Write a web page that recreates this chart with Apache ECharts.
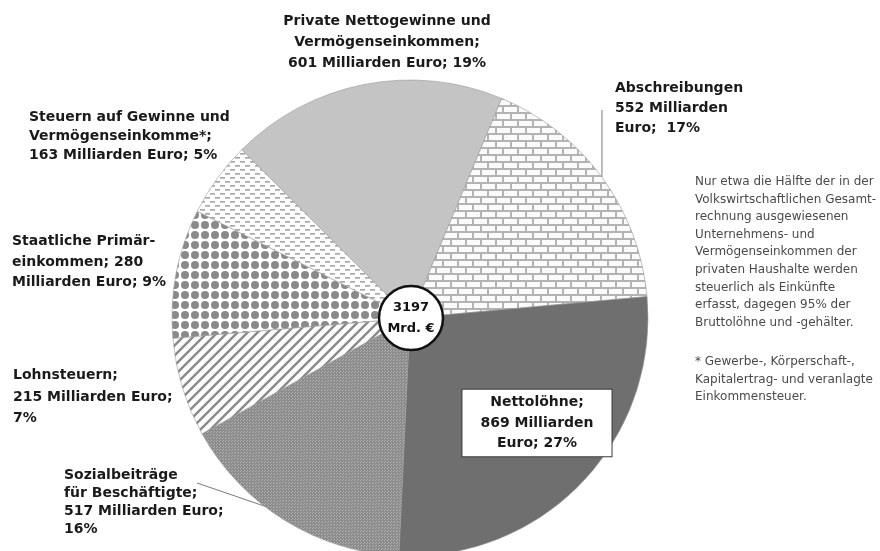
<!DOCTYPE html>
<html><head><meta charset="utf-8">
<script src="https://cdn.jsdelivr.net/npm/echarts@6/dist/echarts.min.js"></script>
<style>html,body{margin:0;padding:0;background:#fff}#c{width:880px;height:551px}</style>
</head><body><div id="c"></div>
<script>
// ---- data ----
const categories = [
  'Private Nettogewinne und Vermögenseinkommen',
  'Abschreibungen',
  'Nettolöhne',
  'Sozialbeiträge für Beschäftigte',
  'Lohnsteuern',
  'Staatliche Primäreinkommen',
  'Steuern auf Gewinne und Vermögenseinkommen*'
];
const values = [601, 552, 869, 517, 215, 280, 163];
const labelTemplates = [
  'Private Nettogewinne und\nVermögenseinkommen;\n{v} Milliarden Euro; {p}%',
  'Abschreibungen\n{v} Milliarden\nEuro;  {p}%',
  'Nettolöhne;\n{v} Milliarden\nEuro; {p}%',
  'Sozialbeiträge\nfür Beschäftigte;\n{v} Milliarden Euro;\n{p}%',
  'Lohnsteuern;\n{v} Milliarden Euro;\n{p}%',
  'Staatliche Primär-\neinkommen; {v}\nMilliarden Euro; {p}%',
  'Steuern auf Gewinne und\nVermögenseinkomme*;\n{v} Milliarden Euro; {p}%'
];
const centerUnit = 'Mrd. €';
const noteLines = [
  'Nur etwa die Hälfte der in der',
  'Volkswirtschaftlichen Gesamt-',
  'rechnung ausgewiesenen',
  'Unternehmens- und',
  'Vermögenseinkommen der',
  'privaten Haushalte werden',
  'steuerlich als Einkünfte',
  'erfasst, dagegen 95% der',
  'Bruttolöhne und -gehälter.'
];
const footnoteLines = [
  '* Gewerbe-, Körperschaft-,',
  'Kapitalertrag- und veranlagte',
  'Einkommensteuer.'
];

// ---- styles / layout ----
const total = values.reduce((a, b) => a + b, 0);
function mk(w, h, draw) {
  const c = document.createElement('canvas'); c.width = w; c.height = h;
  const g = c.getContext('2d'); draw(g, w, h); return c;
}
const patBrick = mk(15, 14, g => {
  g.fillStyle = '#fbfbfb'; g.fillRect(0, 0, 15, 14);
  g.fillStyle = '#b3b3b3';
  g.fillRect(0, 0, 15, 2); g.fillRect(0, 7, 15, 2);
  g.fillRect(0, 0, 2, 7); g.fillRect(7, 7, 2, 7);
});
const patGrid = mk(3, 3, g => {
  g.fillStyle = '#8c8c8c'; g.fillRect(0, 0, 3, 3);
  g.fillStyle = '#b0b0b0'; g.fillRect(0, 0, 1, 1); g.fillRect(1, 2, 1, 1);
});
const patDiag = mk(10, 10, g => {
  g.fillStyle = '#ffffff'; g.fillRect(0, 0, 10, 10);
  g.strokeStyle = '#8a8a8a'; g.lineWidth = 2.4;
  g.beginPath();
  g.moveTo(-2, 12); g.lineTo(12, -2);
  g.moveTo(-2, 2); g.lineTo(2, -2);
  g.moveTo(8, 12); g.lineTo(12, 8);
  g.stroke();
});
const patDots = mk(10, 10, g => {
  g.fillStyle = '#ffffff'; g.fillRect(0, 0, 10, 10);
  g.fillStyle = '#8a8a8a';
  g.beginPath(); g.arc(5, 5, 4, 0, Math.PI * 2); g.fill();
});
const patDash = mk(10, 8, g => {
  g.fillStyle = '#ffffff'; g.fillRect(0, 0, 10, 8);
  g.fillStyle = '#a8a8a8';
  g.fillRect(0, 1, 5, 1.7); g.fillRect(5, 5, 5, 1.7);
});
const sliceColors = [
  '#c4c4c4',
  { image: patBrick, repeat: 'repeat' },
  '#6f6f6f',
  { image: patGrid, repeat: 'repeat' },
  { image: patDiag, repeat: 'repeat' },
  { image: patDots, repeat: 'repeat' },
  { image: patDash, repeat: 'repeat' }
];
const labelPos = [
  { x: 387, y: 42, align: 'center', lh: 21 },
  { x: 615, y: 108, align: 'left', lh: 20 },
  { x: 537, y: 423, align: 'center', lh: 20.5 },
  { x: 64, y: 502, align: 'left', lh: 18 },
  { x: 13, y: 397, align: 'left', lh: 21.5 },
  { x: 12, y: 262, align: 'left', lh: 20.5 },
  { x: 29, y: 136, align: 'left', lh: 19 }
];
const withLine = [1, 3];

const pieData = categories.map((name, i) => {
  const item = {
    name, value: values[i],
    itemStyle: { color: sliceColors[i] },
    label: { lineHeight: labelPos[i].lh, align: labelPos[i].align },
    labelLine: { show: withLine.includes(i) }
  };
  if (i === 2) {
    Object.assign(item.label, {
      backgroundColor: '#ffffff', borderColor: '#3a3a3a', borderWidth: 1, padding: [3, 18, 2, 18]
    });
  }
  return item;
});

const chart = echarts.init(document.getElementById('c'), null, { renderer: 'canvas' });
chart.setOption({
  animation: false,
  backgroundColor: '#ffffff',
  series: [
    {
      type: 'pie',
      center: [410, 318],
      radius: 238,
      startAngle: 135,
      clockwise: true,
      avoidLabelOverlap: false,
      silent: true,
      itemStyle: { borderColor: '#9a9a9a', borderWidth: 0.6 },
      label: {
        show: true,
        position: 'outside',
        color: '#1a1a1a',
        fontFamily: 'DejaVu Sans',
        fontWeight: 'bold',
        fontSize: 14,
        formatter: p => labelTemplates[p.dataIndex]
          .replace('{v}', values[p.dataIndex])
          .replace('{p}', Math.round(values[p.dataIndex] / total * 100))
      },
      labelLine: { show: false, lineStyle: { color: '#7a7a7a', width: 1 } },
      labelLayout: p => {
        const L = labelPos[p.dataIndex];
        const r = { x: L.x, y: L.y, align: L.align, verticalAlign: 'middle' };
        if (p.labelLinePoints && p.dataIndex === 1) {
          const s = p.labelLinePoints[0];
          r.labelLinePoints = [[s[0], s[1]], [s[0], L.y + 2], [s[0], L.y + 2]];
        }
        if (p.labelLinePoints && p.dataIndex === 3) {
          const s = p.labelLinePoints[0];
          r.labelLinePoints = [[s[0] - 8, s[1] - 10], [L.x + 133, L.y - 19], [L.x + 133, L.y - 19]];
        }
        return r;
      },
      data: pieData
    },
    {
      type: 'pie',
      center: [411, 318],
      radius: [0, 32],
      silent: true,
      z: 5,
      itemStyle: { color: '#ffffff', borderColor: '#111111', borderWidth: 2.5 },
      label: {
        show: true, position: 'center',
        formatter: () => total + '\n' + centerUnit,
        color: '#111111', fontFamily: 'DejaVu Sans', fontWeight: 'bold', fontSize: 13, lineHeight: 21
      },
      labelLine: { show: false },
      data: [{ name: 'Summe', value: total }]
    }
  ],
  graphic: [
    {
      type: 'text', left: 695, top: 173,
      style: { text: noteLines.join('\n'), font: '12px "DejaVu Sans"', lineHeight: 17.6, fill: '#4a4a4a' }
    },
    {
      type: 'text', left: 695, top: 353,
      style: { text: footnoteLines.join('\n'), font: '12px "DejaVu Sans"', lineHeight: 17.6, fill: '#4a4a4a' }
    }
  ]
});
</script></body></html>
